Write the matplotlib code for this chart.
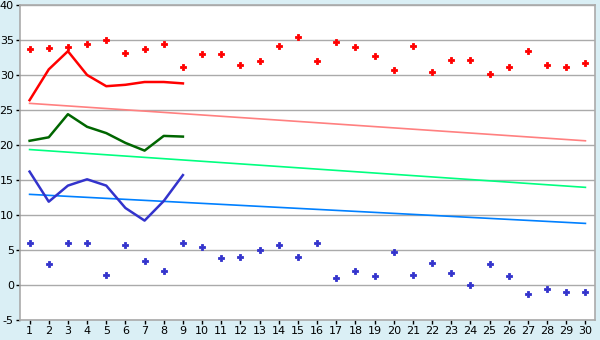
import numpy as np
import matplotlib
matplotlib.use("Agg")
import matplotlib.pyplot as plt

plt.rcParams['axes.unicode_minus'] = False

# dni miesiąca
days = list(range(1, 31))

# punkty: maksima (czerwone) i minima (niebieskie)
max_pts = [33.7, 33.8, 34.0, 34.5, 35.0, 33.2, 33.7, 34.4, 31.1, 33.0,
           33.0, 31.4, 32.0, 34.1, 35.5, 32.0, 34.7, 34.0, 32.7, 30.7,
           34.2, 30.5, 32.2, 32.2, 30.1, 31.1, 33.4, 31.4, 31.1, 31.7]
min_pts = [6.0, 3.0, 6.0, 6.0, 1.4, 5.7, 3.5, 2.0, 6.0, 5.5,
           3.8, 4.0, 5.0, 5.7, 4.0, 6.0, 1.0, 2.0, 1.3, 4.7,
           1.4, 3.1, 1.7, 0.0, 3.0, 1.3, -1.3, -0.6, -1.0, -1.0]

# linie dla dni 1-9
line_days = list(range(1, 10))
red_line = [26.4, 30.8, 33.4, 30.0, 28.4, 28.6, 29.0, 29.0, 28.8]
green_line = [20.6, 21.1, 24.4, 22.6, 21.7, 20.3, 19.2, 21.3, 21.2]
blue_line = [16.2, 11.9, 14.2, 15.1, 14.2, 11.0, 9.2, 12.0, 15.7]

# linie trendu (dzień 1 i dzień 30)
trend_days = [1, 30]
red_trend = [25.95, 20.6]
green_trend = [19.35, 13.95]
blue_trend = [12.95, 8.8]

bg = '#daeff5'
fig = plt.figure(figsize=(6, 3.4), dpi=100, facecolor=bg)
ax = fig.add_axes([20/600, 20/340, 575/600, 315/340])
ax.set_facecolor('white')

ax.plot(trend_days, red_trend, color='#ff8080', lw=1.2)
ax.plot(trend_days, green_trend, color='#00ff80', lw=1.2)
ax.plot(trend_days, blue_trend, color='#0080ff', lw=1.2)

ax.plot(line_days, red_line, color='#ff0000', lw=1.8)
ax.plot(line_days, green_line, color='#006600', lw=1.8)
ax.plot(line_days, blue_line, color='#3333cc', lw=1.8)

ax.plot(days, max_pts, ls='none', marker='P', ms=4.5, color='#ff0000',
        mew=0.6, mec='#ff0000')
ax.plot(days, min_pts, ls='none', marker='P', ms=4.5, color='#3333cc',
        mew=0.6, mec='#3333cc')

ax.set_xlim(0.5, 30.5)
ax.set_ylim(-5, 40)
ax.set_xticks(days)
ax.set_yticks(range(-5, 41, 5))
ax.yaxis.grid(True, color='#aaaaaa', lw=1)
ax.set_axisbelow(True)
for s in ax.spines.values():
    s.set_color('#aaaaaa')
    s.set_linewidth(1.2)
ax.tick_params(axis='both', direction='out', length=3, width=1, color='black',
               labelsize=8, pad=1.5)

fig.savefig('out.png', dpi=100, facecolor=bg)
